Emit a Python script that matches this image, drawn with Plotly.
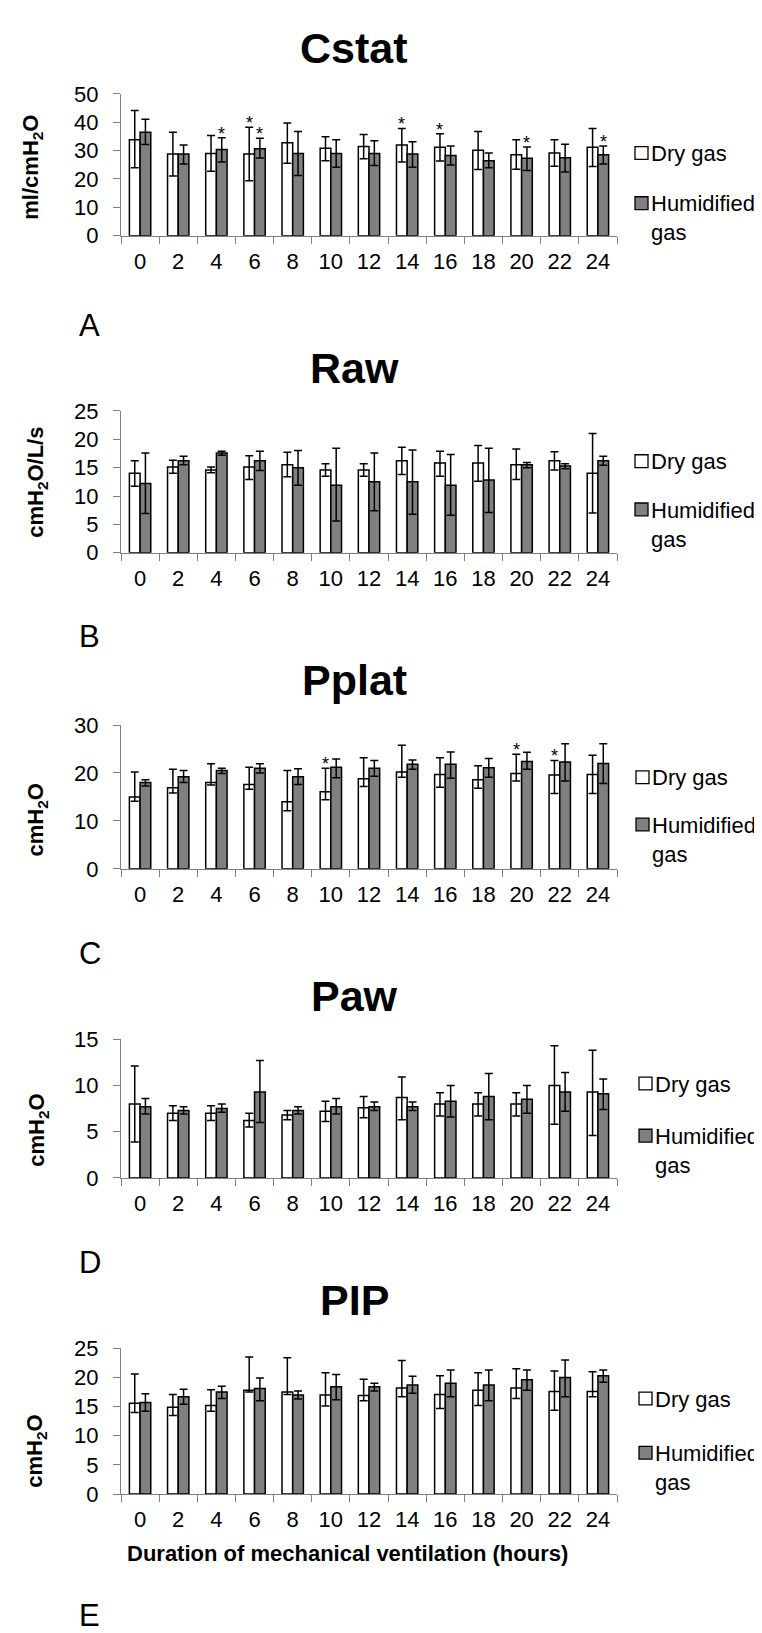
import plotly.graph_objects as go

# ---------------- data ----------------
hours = ["0", "2", "4", "6", "8", "10", "12", "14", "16", "18", "20", "22", "24"]
series_names = ["Dry gas", "Humidified<br>gas"]

# Cstat (ml/cmH2O)
cstat_dry = [33.8, 28.8, 29.0, 28.8, 32.8, 30.8, 31.4, 32.0, 31.2, 30.1, 28.5, 29.1, 31.2]
cstat_dry_up = [10.3, 7.7, 6.3, 9.4, 6.9, 4.1, 4.3, 5.8, 4.7, 6.6, 5.3, 4.7, 6.6]
cstat_dry_dn = [9.9, 7.8, 6.3, 9.4, 7.3, 4.4, 4.3, 6.0, 4.9, 6.8, 5.1, 4.6, 6.8]
cstat_hum = [36.5, 28.8, 30.4, 30.6, 29.0, 29.0, 29.0, 28.8, 28.3, 26.4, 27.3, 27.5, 28.5]
cstat_hum_up = [4.5, 3.2, 4.1, 3.7, 7.7, 4.8, 4.5, 4.3, 3.3, 2.7, 4.0, 4.7, 3.1]
cstat_hum_dn = [4.4, 3.5, 4.4, 3.2, 7.8, 4.9, 4.3, 4.7, 3.4, 2.5, 4.3, 5.1, 3.2]
cstat_star_dry = ["6", "14", "16"]
cstat_star_hum = ["4", "6", "20", "24"]

# Raw (cmH2O/L/s)
raw_dry = [14.0, 15.1, 14.6, 15.1, 15.5, 14.6, 14.6, 16.2, 15.8, 15.8, 15.5, 16.2, 14.0]
raw_dry_up = [2.2, 1.2, 0.5, 2.0, 2.2, 1.1, 1.1, 2.4, 2.1, 3.1, 2.8, 1.6, 7.0]
raw_dry_dn = [2.3, 1.1, 0.5, 2.2, 2.1, 1.1, 1.1, 2.4, 2.3, 3.2, 2.6, 1.6, 7.0]
raw_hum = [12.2, 16.2, 17.6, 16.2, 15.0, 11.9, 12.5, 12.5, 11.9, 12.8, 15.5, 15.3, 16.2]
raw_hum_up = [5.4, 0.8, 0.3, 1.7, 3.0, 6.5, 5.1, 5.6, 5.4, 5.6, 0.4, 0.4, 0.8]
raw_hum_dn = [5.3, 0.7, 0.4, 1.7, 3.1, 6.3, 5.1, 5.7, 5.3, 5.7, 0.5, 0.5, 0.8]
raw_star_dry = []
raw_star_hum = []

# Pplat (cmH2O)
pplat_dry = [15.0, 16.9, 18.0, 17.6, 14.0, 16.1, 18.8, 20.2, 19.7, 18.6, 19.9, 19.6, 19.7]
pplat_dry_up = [5.2, 3.9, 3.9, 3.6, 6.5, 4.9, 4.4, 5.6, 3.5, 2.9, 4.0, 3.0, 4.0]
pplat_dry_dn = [0.9, 1.1, 0.5, 1.0, 1.9, 1.7, 1.6, 1.1, 2.7, 1.8, 1.6, 3.9, 4.0]
pplat_hum = [18.0, 19.2, 20.5, 21.0, 19.2, 21.2, 21.0, 21.8, 21.8, 21.1, 22.4, 22.3, 22.0]
pplat_hum_up = [0.6, 1.3, 0.5, 0.9, 1.7, 1.7, 1.6, 0.9, 2.6, 1.9, 1.9, 3.8, 4.1]
pplat_hum_dn = [0.7, 1.2, 0.6, 1.0, 1.6, 2.2, 1.7, 1.0, 2.9, 2.0, 1.6, 4.0, 4.2]
pplat_star_dry = ["10", "20", "22"]
pplat_star_hum = []

# Paw (cmH2O)
paw_dry = [8.0, 7.0, 7.0, 6.2, 6.8, 7.2, 7.6, 8.7, 8.0, 8.0, 8.0, 10.0, 9.3]
paw_dry_up = [4.1, 0.8, 0.8, 0.8, 0.5, 1.1, 1.2, 2.2, 1.2, 1.2, 1.2, 4.3, 4.5]
paw_dry_dn = [4.1, 0.8, 0.8, 0.7, 0.5, 1.1, 1.1, 2.4, 1.3, 1.3, 1.3, 4.2, 4.7]
paw_hum = [7.7, 7.3, 7.5, 9.3, 7.3, 7.7, 7.7, 7.7, 8.3, 8.8, 8.5, 9.3, 9.1]
paw_hum_up = [0.9, 0.4, 0.5, 3.4, 0.4, 0.9, 0.5, 0.5, 1.7, 2.5, 1.5, 2.1, 1.6]
paw_hum_dn = [0.8, 0.4, 0.4, 3.3, 0.4, 0.8, 0.4, 0.4, 1.7, 2.5, 1.5, 2.1, 1.7]
paw_star_dry = []
paw_star_hum = []

# PIP (cmH2O)
pip_dry = [15.6, 14.9, 15.2, 17.8, 17.5, 17.0, 16.9, 18.2, 17.1, 17.8, 18.2, 17.6, 17.6]
pip_dry_up = [5.0, 2.2, 2.7, 5.7, 5.9, 3.8, 2.8, 4.7, 3.2, 3.0, 3.3, 3.5, 3.4]
pip_dry_dn = [1.6, 1.4, 1.0, 0.3, 0.4, 1.9, 0.9, 1.5, 2.4, 2.6, 1.8, 3.2, 0.9]
pip_hum = [15.7, 16.7, 17.5, 18.1, 17.0, 18.4, 18.4, 18.7, 19.0, 18.7, 19.6, 20.0, 20.3]
pip_hum_up = [1.5, 1.3, 1.0, 1.8, 0.7, 2.1, 0.6, 1.5, 2.3, 2.6, 1.7, 3.0, 1.0]
pip_hum_dn = [1.5, 1.3, 1.1, 2.1, 0.7, 2.2, 0.7, 1.4, 2.3, 2.7, 1.8, 3.3, 1.1]
pip_star_dry = []
pip_star_hum = []

panel_titles = ["Cstat", "Raw", "Pplat", "Paw", "PIP"]
panel_letters = ["A", "B", "C", "D", "E"]
y_titles = ["ml/cmH<sub>2</sub>O", "cmH<sub>2</sub>O/L/s", "cmH<sub>2</sub>O",
            "cmH<sub>2</sub>O", "cmH<sub>2</sub>O"]
y_maxes = [50, 25, 30, 15, 25]
y_dticks = [10, 5, 10, 5, 5]
x_title = "Duration of mechanical ventilation (hours)"

panels = [
    (cstat_dry, cstat_dry_up, cstat_dry_dn, cstat_hum, cstat_hum_up, cstat_hum_dn, cstat_star_dry, cstat_star_hum),
    (raw_dry, raw_dry_up, raw_dry_dn, raw_hum, raw_hum_up, raw_hum_dn, raw_star_dry, raw_star_hum),
    (pplat_dry, pplat_dry_up, pplat_dry_dn, pplat_hum, pplat_hum_up, pplat_hum_dn, pplat_star_dry, pplat_star_hum),
    (paw_dry, paw_dry_up, paw_dry_dn, paw_hum, paw_hum_up, paw_hum_dn, paw_star_dry, paw_star_hum),
    (pip_dry, pip_dry_up, pip_dry_dn, pip_hum, pip_hum_up, pip_hum_dn, pip_star_dry, pip_star_hum),
]

# ---------------- layout geometry (pixels) ----------------
W, H = 762, 1633
FONT = "Arial, Liberation Sans, sans-serif"
plot_left, plot_right = 113, 609
plot_tops = [75, 397, 716, 1035, 1349]
plot_bottoms = [219, 541, 862, 1176, 1497]
title_y = [28, 353, 670, 991, 1300]
title_x = 346
letter_y = [310, 626, 948, 1262, 1620]
letter_x = 69
ylab_x = [24, 29, 29, 30, 28]
ylab_y = [150, 470, 813, 1128, 1454]
legend_x = [627, 627, 628, 631, 631]
legend_dry_y = [135, 448, 769, 1080, 1400]
legend_hum_y = [186, 497, 817, 1133, 1455]
xtitle_y = 1557
BARGAP = 0.44

def px(x):
    return x / W

def py(y):
    return 1 - y / H

fig = go.Figure()
annotations = []
shapes = []
layout = {}

cat_px = (plot_right - plot_left) / len(hours)
bar_px = cat_px * (1 - BARGAP) / 2
shift_px = bar_px / 2

for i, (dry, dup, ddn, hum, hup, hdn, sdry, shum) in enumerate(panels):
    k = "" if i == 0 else str(i + 1)
    xa, ya = "x" + k, "y" + k
    fig.add_trace(go.Bar(
        x=hours, y=dry, name="Dry gas", xaxis=xa, yaxis=ya, showlegend=False,
        marker=dict(color="white", line=dict(color="black", width=1.5)),
        error_y=dict(type="data", symmetric=False, array=dup, arrayminus=ddn,
                     color="black", thickness=1.5, width=4),
    ))
    fig.add_trace(go.Bar(
        x=hours, y=hum, name="Humidified gas", xaxis=xa, yaxis=ya, showlegend=False,
        marker=dict(color="#808080", line=dict(color="black", width=1.5)),
        error_y=dict(type="data", symmetric=False, array=hup, arrayminus=hdn,
                     color="black", thickness=1.5, width=4),
    ))
    layout["xaxis" + k] = dict(
        domain=[px(plot_left), px(plot_right)], anchor=ya, type="category",
        categoryorder="array", categoryarray=hours, range=[-0.5, len(hours) - 0.5],
        showline=True, linecolor="#808080", linewidth=1,
        ticks="outside", tickson="boundaries", ticklen=7, tickcolor="#808080",
        tickfont=dict(family=FONT, size=22, color="black"), tickangle=0,
        showgrid=False, zeroline=False, ticklabelstandoff=6,
    )
    layout["yaxis" + k] = dict(
        domain=[py(plot_bottoms[i]), py(plot_tops[i])], anchor=xa,
        range=[0, y_maxes[i]], dtick=y_dticks[i], tick0=0,
        showline=True, linecolor="#808080", linewidth=1,
        ticks="outside", ticklen=7, tickcolor="#808080",
        tickfont=dict(family=FONT, size=22, color="black"),
        showgrid=False, zeroline=False, ticklabelstandoff=10,
    )
    # significance stars (x given as category index on the category axis)
    for cats, vals, ups, sgn in ((sdry, dry, dup, -1), (shum, hum, hup, 1)):
        for c in cats:
            j = hours.index(c)
            annotations.append(dict(
                x=j, y=vals[j] + ups[j], xref=xa, yref=ya, text="*", showarrow=False,
                xshift=sgn * shift_px, yshift=4, yanchor="middle",
                font=dict(family=FONT, size=18, color="black"),
            ))
    # panel title
    annotations.append(dict(
        x=px(title_x), y=py(title_y[i]), xref="paper", yref="paper", text="<b>%s</b>" % panel_titles[i],
        showarrow=False, xanchor="center", yanchor="middle",
        font=dict(family=FONT, size=43, color="black"),
    ))
    # panel letter
    annotations.append(dict(
        x=px(letter_x), y=py(letter_y[i]), xref="paper", yref="paper", text=panel_letters[i],
        showarrow=False, xanchor="left", yanchor="middle",
        font=dict(family=FONT, size=31, color="black"),
    ))
    # y-axis title
    annotations.append(dict(
        x=px(ylab_x[i]), y=py(ylab_y[i]), xref="paper", yref="paper", text="<b>%s</b>" % y_titles[i],
        showarrow=False, xanchor="center", yanchor="middle", textangle=-90,
        font=dict(family=FONT, size=22, color="black"),
    ))
    # legend
    for yy, fill, label in ((legend_dry_y[i], "white", series_names[0]),
                            (legend_hum_y[i], "#808080", series_names[1])):
        shapes.append(dict(
            type="rect", xref="paper", yref="paper",
            x0=px(legend_x[i]), x1=px(legend_x[i] + 13), y0=py(yy - 6.5), y1=py(yy + 6.5),
            fillcolor=fill, line=dict(color="black", width=1.3),
        ))
        annotations.append(dict(
            x=px(legend_x[i] + 14), y=py(yy - 14), xref="paper", yref="paper", text=label,
            showarrow=False, xanchor="left", yanchor="top", align="left",
            font=dict(family=FONT, size=22, color="black"),
        ))

annotations.append(dict(
    x=px(339), y=py(xtitle_y), xref="paper", yref="paper", text="<b>%s</b>" % x_title,
    showarrow=False, xanchor="center", yanchor="middle",
    font=dict(family=FONT, size=22, color="black"),
))

fig.update_layout(
    width=W, height=H, autosize=False,
    margin=dict(l=0, r=0, t=0, b=0),
    paper_bgcolor="white", plot_bgcolor="white",
    barmode="group", bargap=BARGAP, bargroupgap=0,
    showlegend=False,
    annotations=annotations, shapes=shapes,
    **layout,
)

fig.write_html("out.html")
